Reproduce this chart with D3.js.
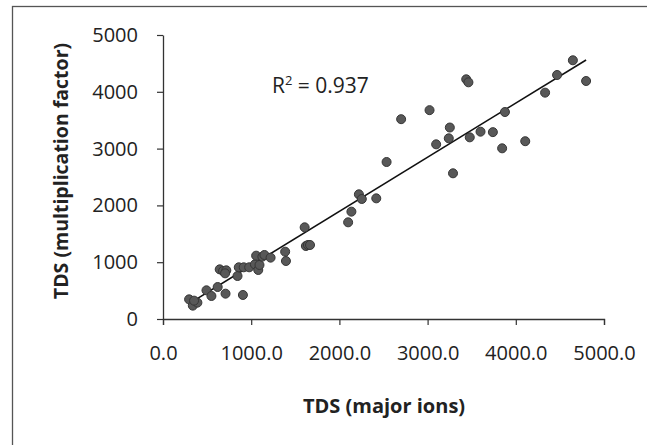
<!DOCTYPE html>
<html>
<head>
<meta charset="utf-8">
<script src="https://cdn.jsdelivr.net/npm/d3@7"></script>
<style>
  body { margin: 0; background: #fff; }
  svg { display: block; }
</style>
</head>
<body>
<div id="chart"></div>
<script>
// TDS (major ions) vs TDS (multiplication factor)
const majorIons = [296, 338, 390, 352, 493, 549, 620, 643, 681, 718, 709, 704, 845, 859, 906,
  915, 977, 1042, 1056, 1080, 1094, 1127, 1150, 1220, 1385, 1394, 1606, 1620, 1643, 1667,
  2099, 2136, 2221, 2254, 2418, 2535, 2700, 3022, 3097, 3240, 3252, 3288, 3438, 3463, 3478,
  3600, 3740, 3845, 3877, 4107, 4332, 4468, 4647, 4797];
const multFactor = [346, 235, 288, 323, 505, 405, 563, 874, 845, 857, 446, 804, 757, 910, 423,
  910, 910, 962, 1115, 863, 951, 1097, 1127, 1080, 1185, 1021, 1614, 1285, 1303, 1303,
  1702, 1890, 2195, 2113, 2124, 2764, 3518, 3677, 3075, 3181, 3371, 2565, 4220, 4167, 3198,
  3298, 3290, 3005, 3644, 3130, 3985, 4296, 4555, 4190];
const xTicks = [0, 1000, 2000, 3000, 4000, 5000];
const yTicks = [0, 1000, 2000, 3000, 4000, 5000];
const rSquared = "0.937";

const width = 647, height = 445;
const font = "'Open Sans', sans-serif";

const svg = d3.select("#chart").append("svg")
    .attr("width", width)
    .attr("height", height);

svg.append("rect")
    .attr("width", width).attr("height", height)
    .attr("fill", "#fff");

// chart frame (runs off the right and bottom edge in the scan)
svg.append("rect")
    .attr("x", 12.5).attr("y", 6.5)
    .attr("width", width + 10).attr("height", height + 10)
    .attr("fill", "none")
    .attr("stroke", "#555")
    .attr("stroke-width", 1.3);

const x = d3.scaleLinear().domain([0, 5000]).range([163, 604]);
const y = d3.scaleLinear().domain([0, 5000]).range([319, 35]);

const gx = svg.append("g")
    .attr("transform", `translate(0,${y(0)})`)
    .call(d3.axisBottom(x).tickValues(xTicks).tickFormat(d3.format(".1f")).tickSize(6).tickPadding(21));

const gy = svg.append("g")
    .attr("transform", `translate(${x(0)},0)`)
    .call(d3.axisLeft(y).tickValues(yTicks).tickFormat(d3.format("d")).tickSize(6).tickSizeOuter(0).tickPadding(19));

[gx, gy].forEach(g => {
  g.select(".domain").attr("stroke", "#333").attr("stroke-width", 1.3);
  g.selectAll(".tick line").attr("stroke", "#333").attr("stroke-width", 1.2);
  g.selectAll(".tick text")
      .attr("fill", "#222")
      .style("font-family", font)
      .style("font-size", "20px");
});

// least squares trend line over the data range
const mx = d3.mean(majorIons), my = d3.mean(multFactor);
const slope = d3.sum(majorIons, (v, i) => (v - mx) * (multFactor[i] - my)) /
              d3.sum(majorIons, v => (v - mx) * (v - mx));
const intercept = my - slope * mx;
const x0 = d3.min(majorIons), x1 = d3.max(majorIons);

svg.append("line")
    .attr("x1", x(x0)).attr("y1", y(intercept + slope * x0))
    .attr("x2", x(x1)).attr("y2", y(intercept + slope * x1))
    .attr("stroke", "#111")
    .attr("stroke-width", 1.6);

svg.append("g")
  .selectAll("circle")
  .data(majorIons)
  .join("circle")
    .attr("cx", d => x(d))
    .attr("cy", (d, i) => y(multFactor[i]))
    .attr("r", 4.5)
    .attr("fill", "#585858")
    .attr("stroke", "#363636")
    .attr("stroke-width", 1);

const r2 = svg.append("text")
    .attr("x", 272).attr("y", 93)
    .attr("fill", "#222")
    .style("font-family", font)
    .style("font-size", "21px");
r2.append("tspan").text("R");
r2.append("tspan").attr("dy", -8).style("font-size", "13px").text("2");
r2.append("tspan").attr("dy", 8).text(" = " + rSquared);

svg.append("text")
    .attr("x", 384).attr("y", 413)
    .attr("text-anchor", "middle")
    .attr("fill", "#222")
    .style("font-family", font)
    .style("font-weight", "bold")
    .style("font-size", "20px")
    .text("TDS (major ions)");

svg.append("text")
    .attr("transform", "translate(68,171) rotate(-90)")
    .attr("text-anchor", "middle")
    .attr("fill", "#222")
    .style("font-family", font)
    .style("font-weight", "bold")
    .style("font-size", "19.5px")
    .text("TDS (multiplication factor)");
</script>
</body>
</html>
